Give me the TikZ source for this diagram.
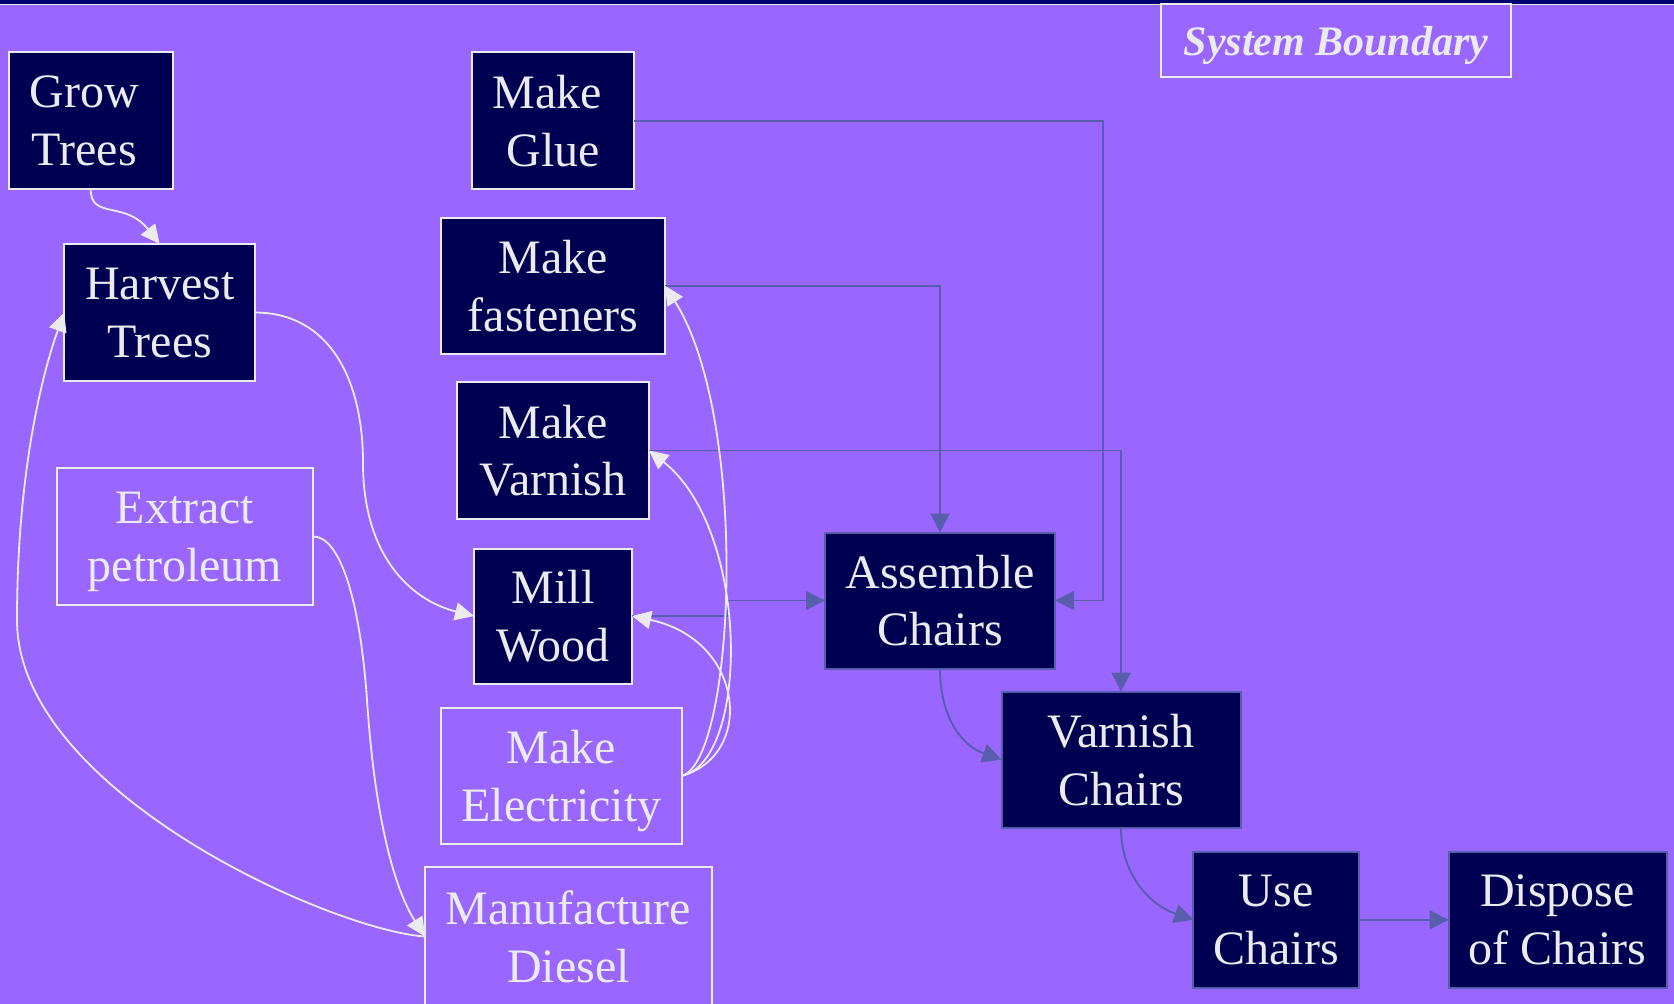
\documentclass[tikz,border=0pt]{standalone}
\usepackage{fontspec}
\setmainfont{Liberation Serif}
\usetikzlibrary{arrows.meta}
\definecolor{bgpurple}{RGB}{153,102,255}
\definecolor{boxnavy}{RGB}{0,0,82}
\definecolor{bandnavy}{RGB}{0,0,110}
\definecolor{paleline}{RGB}{235,235,238}
\definecolor{flowblue}{RGB}{88,94,172}

\begin{document}
\begin{tikzpicture}[x=1pt,y=-1pt,
  stage/.style={rectangle, inner sep=0pt, outer sep=0pt, align=center, text=paleline,
    font=\fontsize{48}{57.6}\selectfont, text depth=-4pt, line width=2pt},
  upstream/.style={stage, fill=boxnavy, draw=paleline},
  outside/.style={stage, draw=paleline},
  chairstep/.style={stage, fill=boxnavy, draw=flowblue},
  whiteflow/.style={draw=paleline, line width=1.8pt, -{Triangle[length=19pt,width=18pt]}},
  blueflow/.style={draw=flowblue, line width=1.9pt, -{Triangle[length=19pt,width=19pt]}},
]
% canvas and title band
\useasboundingbox (0,0) rectangle (1674,1004);
\fill[bgpurple] (0,0) rectangle (1674,1004);
\fill[bandnavy] (0,0) rectangle (1674,3.6);
\draw[paleline, line width=1.3pt] (0,4.6) -- (1674,4.6);

% process boxes
\node[upstream, minimum width=164, minimum height=137] (grow) at (90.7,120.6)
  {\hspace*{-12.8pt}Grow\\\hspace*{-12.8pt}Trees};
\node[upstream, minimum width=191, minimum height=137] (harvest) at (159.7,312.5) {Harvest\\Trees};
\node[outside, minimum width=256, minimum height=137] (extract) at (185,536.5) {Extract\\petroleum};
\node[upstream, minimum width=162, minimum height=137] (glue) at (553,120.6) {Make\hspace*{11pt}\\Glue};
\node[upstream, minimum width=224, minimum height=136] (fasten) at (553,285.7) {Make\\fasteners};
\node[upstream, minimum width=192, minimum height=137] (varnish) at (553,450.5) {Make\\Varnish};
\node[upstream, minimum width=158, minimum height=135] (mill) at (553,616) {Mill\\Wood};
\node[outside, minimum width=241, minimum height=136] (elec) at (561.5,775.8) {Make\\Electricity};
\node[outside, minimum width=287, minimum height=139] (diesel) at (568.5,936.5) {Manufacture\\Diesel};
\node[chairstep, minimum width=230, minimum height=136] (assemble) at (940,600.5) {Assemble\\Chairs};
\node[chairstep, minimum width=239, minimum height=136] (varnch) at (1121,759.6) {Varnish\\Chairs};
\node[chairstep, minimum width=166, minimum height=136] (use) at (1276.3,919.8) {Use\\Chairs};
\node[chairstep, minimum width=218, minimum height=136] (dispose) at (1557.6,919.8) {Dispose\\of Chairs};
\node[draw=paleline, line width=2pt, text=paleline, inner sep=0pt, text depth=0pt,
  font=\fontsize{42}{48}\selectfont\bfseries\itshape,
  minimum width=350, minimum height=73] (boundary) at (1336,40.5) {System Boundary};

% bend points of the orthogonal flows
\coordinate (gluebend) at (1103,0);
\coordinate (millbend) at (728,0);

% material flows into chair making
\draw[blueflow] (glue.east) -- (glue.east -| gluebend) -- (gluebend |- assemble.east) -- (assemble.east);
\draw[blueflow] (fasten.east) -| (assemble.north);
\draw[blueflow] (varnish.east) -| (varnch.north);
\draw[blueflow] (mill.east) -- (millbend |- mill.east) -- (millbend |- assemble.west) -- (assemble.west);
\draw[blueflow] (assemble.south) .. controls (940,715) and (960,745) .. (varnch.west);
\draw[blueflow] (varnch.south) .. controls (1121,875) and (1150,905) .. (use.west);
\draw[blueflow] (use.east) -- (dispose.west);

% wood supply
\draw[whiteflow] (grow.south) .. controls (90.7,220) and (125,200) .. (harvest.north);
\draw[whiteflow] (harvest.east) .. controls (330,313) and (363,380) .. (363,463)
  .. controls (363,555) and (410,600) .. (mill.west);

% fuel and energy
\draw[whiteflow] (extract.east) .. controls (340,536) and (360,600) .. (367,700)
  .. controls (375,820) and (395,890) .. (diesel.west);
\draw[whiteflow] (diesel.west) .. controls (330,930) and (17,790) .. (17,620)
  .. controls (17,480) and (40,380) .. (harvest.west);
\draw[whiteflow] (elec.east) .. controls (735,760) and (750,420) .. (fasten.east);
\draw[whiteflow] (elec.east) .. controls (750,760) and (750,530) .. (varnish.east);
\draw[whiteflow] (elec.east) .. controls (755,755) and (745,640) .. (mill.east);
\end{tikzpicture}
\end{document}
